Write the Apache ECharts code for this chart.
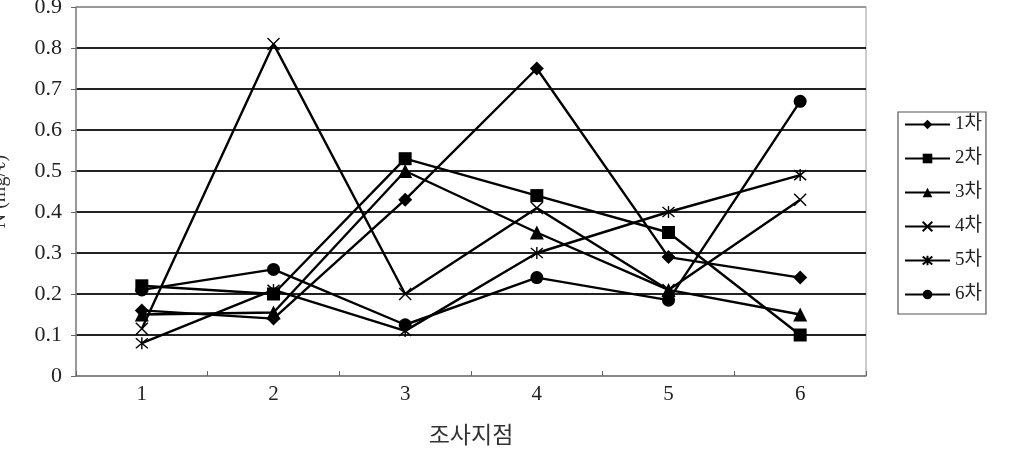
<!DOCTYPE html>
<html>
<head>
<meta charset="utf-8">
<script src="https://cdn.jsdelivr.net/npm/echarts@6/dist/echarts.min.js"></script>
<style>
	html,body{margin:0;padding:0;background:#fff;}
	#chart{width:1017px;height:450px;}
</style>
</head>
<body>
<div id="chart"></div>
<script>
	// 조사지점 / 차수별 농도
	var sites = ['1','2','3','4','5','6'];
	var rounds = ['1차','2차','3차','4차','5차','6차'];
	var r1 = [0.16, 0.14, 0.43, 0.75, 0.29, 0.24];
	var r2 = [0.22, 0.20, 0.53, 0.44, 0.35, 0.10];
	var r3 = [0.15, 0.155, 0.50, 0.35, 0.21, 0.15];
	var r4 = [0.115, 0.81, 0.20, 0.41, 0.21, 0.43];
	var r5 = [0.08, 0.21, 0.11, 0.30, 0.40, 0.49];
	var r6 = [0.21, 0.26, 0.125, 0.24, 0.185, 0.67];
	var yTicks = [0, 0.1, 0.2, 0.3, 0.4, 0.5, 0.6, 0.7, 0.8, 0.9];

	var FONT = "'Liberation Serif', 'Noto Sans CJK KR', serif";
	var X_PATH = 'path://M0,0L10,10M10,0L0,10';
	var STAR_PATH = 'path://M0,0L10,10M10,0L0,10M5,-1L5,11';

	var symbols = [
		{s:'diamond', size:14, fill:true},
		{s:'rect', size:13, fill:true},
		{s:'triangle', size:14, fill:true},
		{s:X_PATH, size:12, fill:false},
		{s:STAR_PATH, size:12, fill:false},
		{s:'circle', size:13, fill:true},
	];
	var allData = [r1, r2, r3, r4, r5, r6];

	var series = [];
	for(var i=0,len=rounds.length;i<len;i++){
		var sy = symbols[i];
		series.push({
			name: rounds[i],
			type: 'line',
			data: allData[i],
			symbol: sy.s,
			symbolSize: sy.size,
			showAllSymbol: true,
			lineStyle: { color:'#000', width:2.4 },
			itemStyle: sy.fill ? { color:'#000' } : { color:'none', borderColor:'#000', borderWidth:1.4 },
			emphasis: { disabled:true },
			animation: false,
			z: 3,
		});
	}

	var chart = echarts.init(document.getElementById('chart'));
	chart.setOption({
		backgroundColor: '#fff',
		animation: false,
		textStyle: { fontFamily: FONT },
		grid: {
			left: 76, right: 151, top: 7, bottom: 74,
			outerBoundsMode: 'none',
			containLabel: false,
			show: true, borderColor: '#999', borderWidth: 1,
		},
		legend: {
			orient: 'vertical',
			left: 898, top: 112,
			padding: [3, 4, 10, 6],
			itemWidth: 45, itemHeight: 12, itemGap: 15,
			borderColor: '#555', borderWidth: 1.2,
			textStyle: { fontFamily: FONT, fontSize: 19, color: '#222' },
			data: rounds,
		},
		xAxis: {
			type: 'category',
			data: sites,
			boundaryGap: true,
			name: '조사지점',
			nameLocation: 'middle',
			nameGap: 49,
			nameTextStyle: { fontFamily: FONT, fontSize: 23, color: '#333' },
			axisLine: { lineStyle: { color: '#888', width: 1.5 } },
			axisTick: { show: true, inside: true, length: 5, lineStyle: { color: '#666' } },
			axisLabel: { fontFamily: FONT, fontSize: 21, color: '#222', margin: 8 },
		},
		yAxis: {
			type: 'value',
			min: 0, max: 0.9, interval: 0.1,
			name: 'N (mg/ℓ)',
			nameLocation: 'middle',
			nameRotate: 90,
			nameGap: 66,
			nameTextStyle: { fontFamily: FONT, fontSize: 20, color: '#333' },
			axisLine: { show: true, lineStyle: { color: '#888', width: 1.5 } },
			axisTick: { show: true, length: 5, lineStyle: { color: '#666' } },
			axisLabel: {
				fontFamily: FONT, fontSize: 22, color: '#222', margin: 14,
				formatter: function(v){
					var idx = yTicks.indexOf(Math.round(v*10)/10);
					return v===0 ? '0' : yTicks[idx].toFixed(1);
				}
			},
			splitLine: {
				show: true,
				lineStyle: {
					color: ['#888','#222','#222','#222','#222','#222','#222','#222','#222','#999'],
					width: 1.8,
				}
			},
		},
		series: series,
	});
</script>
</body>
</html>
